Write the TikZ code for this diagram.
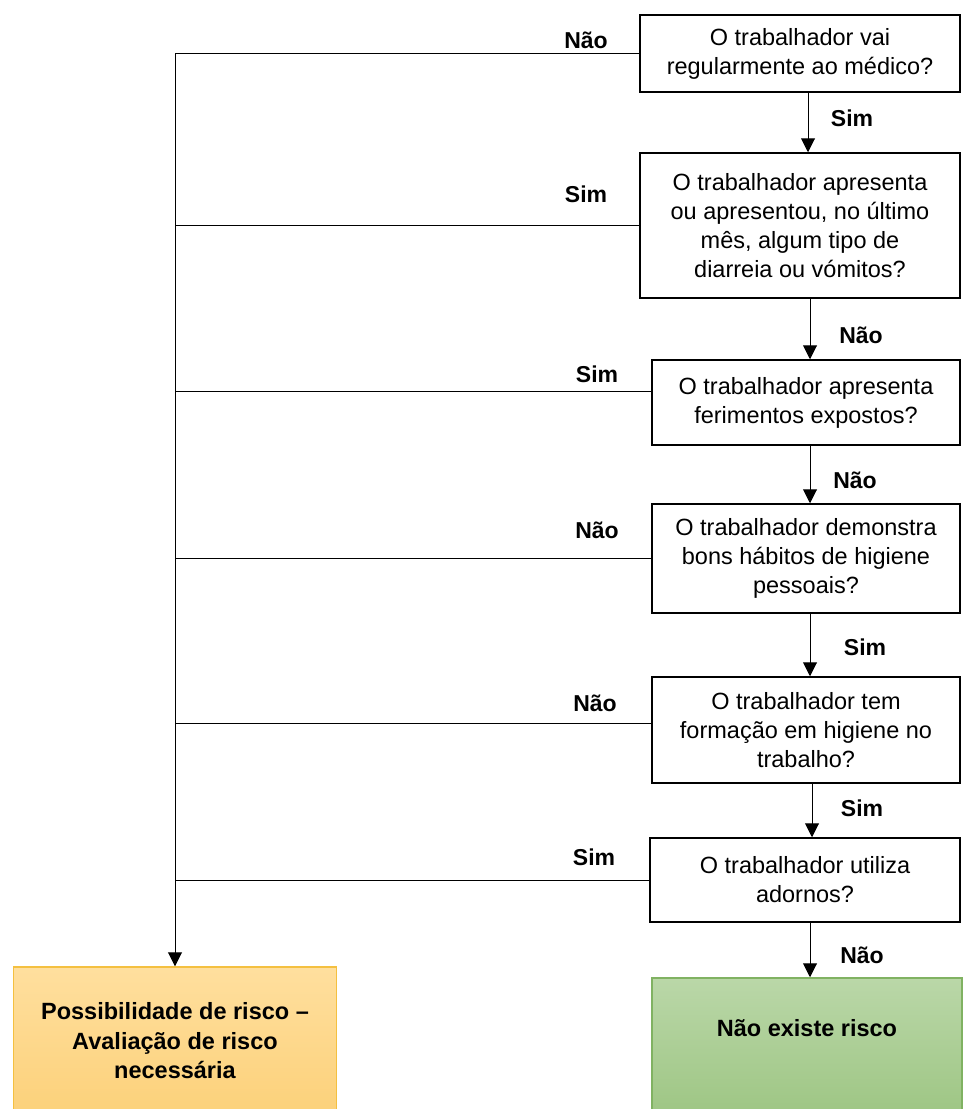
\documentclass[tikz,border=0pt]{standalone}
\usepackage{fontspec}
\setmainfont{Liberation Sans}
\usetikzlibrary{arrows.meta}
\definecolor{riskedge}{RGB}{244,192,64}
\definecolor{risktop}{RGB}{255,223,158}
\definecolor{riskbot}{RGB}{252,209,122}
\definecolor{okedge}{RGB}{128,178,98}
\definecolor{oktop}{RGB}{186,215,168}
\definecolor{okbot}{RGB}{158,198,132}
\begin{document}
\begin{tikzpicture}[x=1pt,y=-1pt,
  qbox/.style={draw=black, line width=1.5pt, align=center, inner sep=0pt,
    font=\fontsize{23.5}{29}\selectfont},
  endbox/.style={line width=1.5pt, align=center, inner sep=0pt,
    font=\fontsize{23.5}{29.5}\selectfont\bfseries},
  lbl/.style={font=\fontsize{23}{28}\selectfont\bfseries, inner sep=0pt},
  link/.style={line width=1pt, black},
  arr/.style={link, -{Triangle[length=14pt,width=14pt]}}]
\useasboundingbox (0,0) rectangle (962,1109);

% question boxes
\node[qbox, minimum width=320pt, minimum height=77pt] (b1) at (800,53.5)
  {O trabalhador vai\\regularmente ao médico?};
\node[qbox, minimum width=320pt, minimum height=145pt] (b2) at (800,225.5)
  {O trabalhador apresenta\\ou apresentou, no último\\mês, algum tipo de\\diarreia ou vómitos?};
\node[qbox, minimum width=308pt, minimum height=85pt] (b3) at (806,402.5)
  {O trabalhador apresenta\\ferimentos expostos?};
\node[qbox, minimum width=308pt, minimum height=109pt] (b4) at (806,558.5)
  {O trabalhador demonstra\\bons hábitos de higiene\\pessoais?};
\node[qbox, minimum width=308pt, minimum height=106pt] (b5) at (806,730)
  {O trabalhador tem\\formação em higiene no\\trabalho?};
\node[qbox, minimum width=310pt, minimum height=84pt] (b6) at (805,880)
  {O trabalhador utiliza\\adornos?};

% outcomes
\node[endbox, draw=riskedge, top color=risktop, bottom color=riskbot,
  minimum width=323pt, minimum height=148pt] (risk) at (175,1041)
  {Possibilidade de risco --\\Avaliação de risco\\necessária};
\node[endbox, draw=okedge, top color=oktop, bottom color=okbot,
  minimum width=310pt, minimum height=137pt] (ok) at (807,1046.5)
  {Não existe risco\\[8pt]\mbox{}};

% main path
\draw[arr] ([xshift=8pt]b1.south) -- ([xshift=8pt]b2.north);
\draw[arr] ([xshift=10pt]b2.south) -- ([xshift=4pt]b3.north);
\draw[arr] ([xshift=4pt]b3.south) -- ([xshift=4pt]b4.north);
\draw[arr] ([xshift=4pt]b4.south) -- ([xshift=4pt]b5.north);
\draw[arr] ([xshift=6pt]b5.south) -- ([xshift=7pt]b6.north);
\draw[arr] ([xshift=5pt]b6.south) -- ([xshift=3pt]ok.north);

% branches to the risk outcome
\draw[arr] ([yshift=0.5pt]b1.west) -| (risk.north);
\draw[link] (b2.west) -- (b2.west -| risk.north);
\draw[link] ([yshift=11.5pt]b3.west) -- ([yshift=11.5pt]b3.west -| risk.north);
\draw[link] (b4.west) -- (b4.west -| risk.north);
\draw[link] ([yshift=7pt]b5.west) -- ([yshift=7pt]b5.west -| risk.north);
\draw[link] (b6.west) -- (b6.west -| risk.north);

% answer labels
\node[lbl] (l1) at (586,40) {Não};
\node[lbl] (l2) at (852,118) {Sim};
\node[lbl] (l3) at (586,194) {Sim};
\node[lbl] (l4) at (861,335) {Não};
\node[lbl] (l5) at (597,374) {Sim};
\node[lbl] (l6) at (855,480) {Não};
\node[lbl] (l7) at (597,530) {Não};
\node[lbl] (l8) at (865,647) {Sim};
\node[lbl] (l9) at (595,703) {Não};
\node[lbl] (l10) at (862,808) {Sim};
\node[lbl] (l11) at (594,857) {Sim};
\node[lbl] (l12) at (862,955) {Não};
\end{tikzpicture}
\end{document}
